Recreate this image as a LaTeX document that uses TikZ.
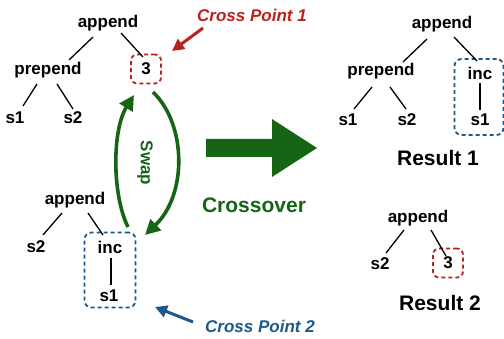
\documentclass[tikz,border=0pt]{standalone}
\usepackage{fontspec}
\setmainfont{Liberation Sans}
\usetikzlibrary{arrows.meta}
\definecolor{cpred}{RGB}{185,32,32}
\definecolor{cpblue}{RGB}{28,88,138}
\definecolor{cpgreen}{RGB}{22,100,22}
\tikzset{
  tn/.style={font=\fontsize{17}{20}\selectfont\bfseries, inner sep=0pt},
  edge/.style={line width=1.3pt, black},
  redbox/.style={draw=cpred, dash pattern=on 4pt off 3pt, line width=1.8pt, rounded corners=6pt, minimum width=30pt, minimum height=29pt},
  bluebox/.style={draw=cpblue, dash pattern=on 4pt off 3pt, line width=1.8pt, rounded corners=7pt},
  cplabel/.style={font=\fontsize{17}{20}\selectfont\bfseries\itshape, inner sep=0pt},
  bigtext/.style={font=\fontsize{21}{24}\selectfont\bfseries, inner sep=0pt},
  swaparrow/.style={draw=cpgreen, line width=3.6pt, -{Triangle[length=15pt,width=15pt]}},
  cparrow/.style={line width=3pt, -{Triangle[length=12pt,width=12pt]}}
}
\begin{document}
\begin{tikzpicture}[x=1pt,y=-1pt]
\useasboundingbox (0,0) rectangle (504,339);
% ---- left top tree
\node[tn] (app1) at (108,23) {append};
\node[tn] (pre1) at (48,70) {prepend};
\node[tn] (s1a) at (15,118) {s1};
\node[tn] (s2a) at (73,118) {s2};
\node[tn,redbox] (three1) at (146,69) {3};
\draw[edge] ([shift={(-15,14)}]app1.center) -- ([shift={(21,-10)}]pre1.center);
\draw[edge] ([shift={(13,10)}]app1.center) -- ([shift={(-3,-12)}]three1.center);
\draw[edge] ([shift={(-11,14)}]pre1.center) -- ([shift={(8,-12)}]s1a.center);
\draw[edge] ([shift={(9,14)}]pre1.center) -- ([shift={(0,-9)}]s2a.center);
% ---- left bottom tree
\node[tn] (app2) at (75,200) {append};
\node[tn] (s2b) at (36,247) {s2};
\node[bluebox,minimum width=51pt,minimum height=75pt] (incbox2) at (110,270) {};
\node[tn] (inc2) at (110,247) {inc};
\node[tn] (s1b) at (109,296) {s1};
\draw[edge] ([shift={(-13,13)}]app2.center) -- ([shift={(7,-12)}]s2b.center);
\draw[edge] ([shift={(13,13)}]app2.center) -- ([shift={(-7,-12)}]inc2.center);
\draw[edge] ([shift={(1,11)}]inc2.center) -- ([shift={(2,-11)}]s1b.center);
% ---- labels and pointers
\node[cplabel,text=cpred] (cp1) at (252,15) {Cross Point 1};
\draw[cparrow,cpred] ([shift={(-49,13)}]cp1.center) -- ([shift={(26,-18)}]three1.center);
\node[cplabel,text=cpblue] (cp2) at (260,326) {Cross Point 2};
\draw[cparrow,cpblue] ([shift={(-67,-4)}]cp2.center) -- ([shift={(45,37)}]incbox2.center);
% ---- swap arrows
\draw[swaparrow] ([shift={(18,-43)}]incbox2.center) .. controls (112,195) and (112,130) .. ([shift={(-12,26)}]three1.center);
\draw[swaparrow] ([shift={(7,23)}]three1.center) .. controls (187,125) and (187,195) .. ([shift={(35,-35)}]incbox2.center);
\node[bigtext,font=\fontsize{17}{20}\selectfont\bfseries,text=cpgreen,rotate=-90] (swap) at (145,163) {Swap};
% ---- crossover arrow
\fill[cpgreen] (206,139) -- (272,139) -- (272,119) -- (317,148) -- (272,177) -- (272,157) -- (206,157) -- cycle;
\node[bigtext,text=cpgreen] (cross) at (254,205) {Crossover};
% ---- result 1
\node[tn] (app3) at (442,24) {append};
\node[tn] (pre3) at (381,71) {prepend};
\node[bluebox,minimum width=49pt,minimum height=76pt] (incbox3) at (479,97) {};
\node[tn] (inc3) at (480,73) {inc};
\node[tn] (s1r) at (480,120) {s1};
\node[tn] (s1c) at (348,120) {s1};
\node[tn] (s2c) at (407,120) {s2};
\draw[edge] ([shift={(-15,15)}]app3.center) -- ([shift={(22,-9)}]pre3.center);
\draw[edge] ([shift={(12,13)}]app3.center) -- ([shift={(-3,-12)}]inc3.center);
\draw[edge] ([shift={(-9,16)}]pre3.center) -- ([shift={(6,-11)}]s1c.center);
\draw[edge] ([shift={(9,16)}]pre3.center) -- ([shift={(-1,-11)}]s2c.center);
\draw[edge] ([shift={(0,10)}]inc3.center) -- ([shift={(0,-10)}]s1r.center);
\node[bigtext] (res1) at (438,158) {Result 1};
% ---- result 2
\node[tn] (app4) at (418,218) {append};
\node[tn] (s2d) at (380,264) {s2};
\node[tn,redbox] (three4) at (448,263) {3};
\draw[edge] ([shift={(-14,12)}]app4.center) -- ([shift={(6,-11)}]s2d.center);
\draw[edge] ([shift={(13,12)}]app4.center) -- ([shift={(-2,-7)}]three4.center);
\node[bigtext] (res2) at (440,303) {Result 2};
\end{tikzpicture}
\end{document}
